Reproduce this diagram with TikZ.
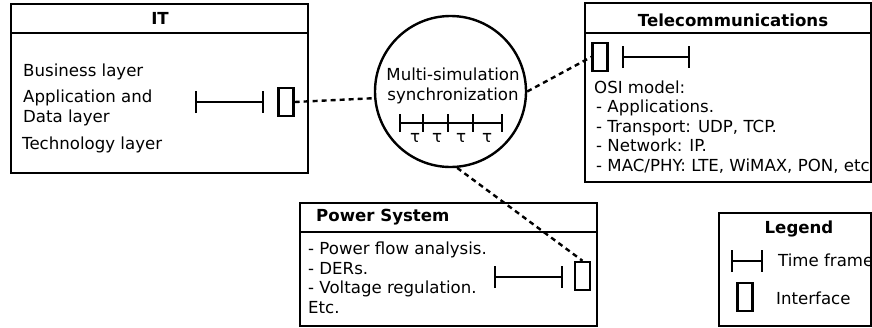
\documentclass[tikz,border=0pt]{standalone}
\usepackage{fontspec}
\setmainfont{DejaVu Sans}
\usepackage{tikz}
\usetikzlibrary{arrows.meta}

\begin{document}
\begin{tikzpicture}[x=1pt, y=-1pt, line width=2.4pt,
  font=\fontsize{16.6}{19.5}\selectfont,
  txt/.style={inner sep=0pt, anchor=west, align=left},
  ttl/.style={inner sep=0pt, font=\fontsize{16.6}{19.5}\selectfont\bfseries},
  iface/.style={rectangle, draw, line width=2.4pt, minimum width=15pt, minimum height=28pt, inner sep=0pt},
  tframe/.style={line width=2.4pt, {Bar[width=22pt]}-{Bar[width=22pt]}},
  link/.style={line width=2.4pt, dash pattern=on 5pt off 4pt}]
\useasboundingbox (0,0) rectangle (872,327);

% IT
\draw (11,4) rectangle (308,173);
\draw (11,33) -- (308,33);
\node[ttl] (itttl) at (160,18) {IT};
\node[txt] (itbiz) at (22,72) {Business layer};
\node[txt] (itapp) at (22,108) {Application and\\Data layer};
\node[txt] (ittech) at (21,145) {Technology layer};
\draw[tframe] (195,102) -- (264,102);
\node[iface] (itif) at (286,102) {};

% Telecommunications
\draw (585,3) rectangle (871,182);
\draw (585,33) -- (871,33);
\node[ttl] (telttl) at (733,20) {Telecommunications};
\node[iface] (telif) at (600,57) {};
\draw[tframe] (622,57) -- (690,57);
\node[txt] (teltxt) at (593,127) {OSI model:\\\hspace{2pt}- Applications.\\\hspace{2pt}- Transport: UDP, TCP.\\\hspace{2pt}- Network: IP.\\\hspace{2pt}- MAC/PHY: LTE, WiMAX, PON, etc};

% Power System
\draw (300,203) rectangle (597,326);
\draw (300,232) -- (597,232);
\node[ttl, anchor=west] (pwttl) at (315,217) {Power System};
\node[txt] (pwtxt) at (307,278) {- Power flow analysis.\\- DERs.\\- Voltage regulation.\\Etc.};
\draw[tframe] (494,277) -- (563,277);
\node[iface] (pwif) at (582.5,276) {};

% synchronization
\node[circle, draw, minimum size=151pt, inner sep=0pt] (sync) at (450.5,91.5) {};
\node[inner sep=0pt, align=center] (synctxt) at (453,86) {Multi-simulation\\synchronization};
\draw (400,123) -- (502,123);
\foreach \x in {400,423,448,473,502}
  \draw (\x,114) -- (\x,132);
\foreach \x in {415,437,461,487}
  \node[inner sep=0pt] at (\x,138) {τ};

% links
\draw[link] (itif.east) -- (sync.185);
\draw[link] (sync.east) -- (telif.west);
\draw[link] (sync.275) -- (pwif.north);

% Legend
\draw (719,213) rectangle (871,326);
\node[ttl] (lgttl) at (799,229) {Legend};
\draw[tframe] (731,261) -- (763,261);
\node[txt] (lgtf) at (777,260) {Time frame};
\node[iface] (lgif) at (745,297) {};
\node[txt] (lgif) at (775,298) {Interface};
\end{tikzpicture}
\end{document}
